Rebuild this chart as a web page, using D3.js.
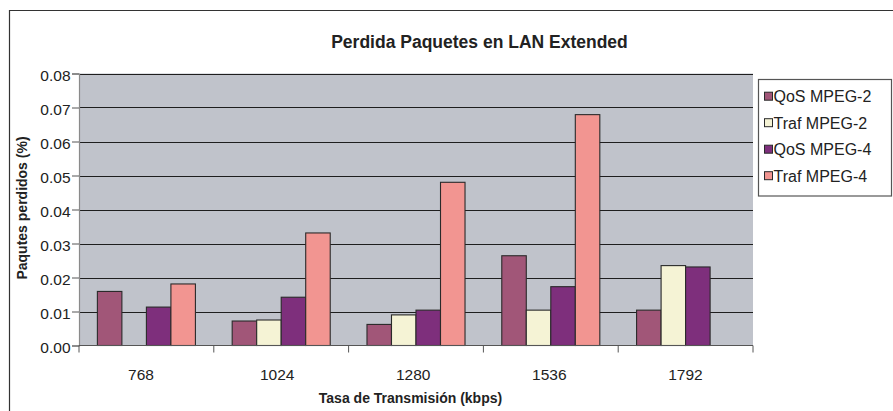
<!DOCTYPE html>
<html><head><meta charset="utf-8">
<script src="https://cdn.jsdelivr.net/npm/d3@7"></script>
<style>
html,body{margin:0;padding:0;background:#fff;}
svg{display:block;font-family:"Liberation Sans",Arial,sans-serif;}
</style></head>
<body><svg id="c" width="893" height="411"></svg>
<script>
const categories = ["768", "1024", "1280", "1536", "1792"];
const seriesNames = ["QoS MPEG-2", "Traf MPEG-2", "QoS MPEG-4", "Traf MPEG-4"];
const qosMpeg2  = [0.0159, 0.0072, 0.0062, 0.0264, 0.0104];
const trafMpeg2 = [null,   0.0075, 0.0090, 0.0104, 0.0235];
const qosMpeg4  = [0.0113, 0.0142, 0.0104, 0.0173, 0.0231];
const trafMpeg4 = [0.0181, 0.0331, 0.0480, 0.0679, null];
const seriesColors = ["#a15678", "#f5f3d5", "#7e2f7c", "#f29591"];
const yTickValues = [0, 0.01, 0.02, 0.03, 0.04, 0.05, 0.06, 0.07, 0.08];
const title = "Perdida Paquetes en LAN Extended";
const xTitle = "Tasa de Transmisión (kbps)";
const yTitle = "Paqutes perdidos (%)";

const seriesValues = [qosMpeg2, trafMpeg2, qosMpeg4, trafMpeg4];
const svg = d3.select("#c");

const L = 79, R = 753, T = 73.5, B = 345.5;

// outer chart border (extends beyond the right/bottom edge)
svg.append("path").attr("d", `M9.5,420 L9.5,10.5 L900,10.5`)
  .attr("fill", "none").attr("stroke", "#333").attr("stroke-width", 1.2);

const x0 = d3.scaleBand().domain(categories).range([L, R]).paddingInner(0).paddingOuter(0);
const x1 = d3.scaleBand().domain(seriesNames).range([0, x0.bandwidth()]).paddingInner(0).paddingOuter(0.75);
// category labels are laid out slightly wider than the plot in the original
const xLab = d3.scaleBand().domain(categories).range([L - 6, R + 0.5]);
const y = d3.scaleLinear().domain([0, 0.08]).range([B, T]);

// plot background
svg.append("rect").attr("x", L).attr("y", T).attr("width", R - L).attr("height", B - T).attr("fill", "#c0c3cb");

// gridlines
svg.append("g").selectAll("line").data(yTickValues.filter(d => d > 0)).join("line")
  .attr("x1", L).attr("x2", R)
  .attr("y1", d => Math.round(y(d)) + 0.5).attr("y2", d => Math.round(y(d)) + 0.5)
  .attr("stroke", "#1e1e1e").attr("stroke-width", 1.2);

// bars
const g = svg.append("g");
seriesNames.forEach((s, si) => {
  g.append("g").selectAll("rect")
    .data(categories.map((c, ci) => ({c, v: seriesValues[si][ci]})).filter(d => d.v != null))
    .join("rect")
    .attr("x", d => x0(d.c) + x1(s))
    .attr("y", d => y(d.v))
    .attr("width", x1.bandwidth())
    .attr("height", d => B - y(d.v))
    .attr("fill", seriesColors[si])
    .attr("stroke", "#2a2a2a").attr("stroke-width", 1.1);
});

// y axis
const yAxis = d3.axisLeft(y).tickValues(yTickValues).tickFormat(d3.format(".2f")).tickSize(7).tickPadding(1.5);
const ya = svg.append("g").attr("transform", `translate(${L},0)`).call(yAxis);
ya.select(".domain").attr("stroke", "#8a8a8a").attr("stroke-width", 1.2);
ya.selectAll(".tick line").attr("stroke", "#555");
ya.selectAll("text").attr("font-size", "15.5px").attr("fill", "#222")
  .attr("font-family", "'Liberation Sans',Arial,sans-serif").attr("dy", "0.42em");

// x axis
const xa = svg.append("g").attr("transform", `translate(0,${B})`);
xa.append("line").attr("x1", L).attr("x2", R).attr("y1", 0).attr("y2", 0)
  .attr("stroke", "#555").attr("stroke-width", 1.2);
const bounds = categories.map(c => x0(c)).concat([R]);
xa.selectAll("line.tk").data(bounds).join("line").attr("class", "tk")
  .attr("x1", d => d).attr("x2", d => d).attr("y1", 0).attr("y2", 7)
  .attr("stroke", "#555");
xa.selectAll("text").data(categories).join("text")
  .attr("x", d => xLab(d) + xLab.bandwidth() / 2).attr("y", 34)
  .attr("text-anchor", "middle").attr("font-size", "15.5px").attr("fill", "#222")
  .text(d => d);

// titles
svg.append("text").attr("x", 479.5).attr("y", 48).attr("text-anchor", "middle")
  .attr("font-size", "17.5px").attr("font-weight", "bold").attr("fill", "#222").text(title);
svg.append("text").attr("x", 410.5).attr("y", 403).attr("text-anchor", "middle")
  .attr("font-size", "14px").attr("font-weight", "bold").attr("fill", "#222").text(xTitle);
svg.append("text").attr("transform", "translate(27,208) rotate(-90)").attr("text-anchor", "middle")
  .attr("font-size", "14px").attr("font-weight", "bold").attr("fill", "#222").text(yTitle);

// legend
const lg = svg.append("g");
lg.append("rect").attr("x", 758.5).attr("y", 79.5).attr("width", 133).attr("height", 116.5)
  .attr("fill", "#fff").attr("stroke", "#555").attr("stroke-width", 1.2);
const rowY = [96.7, 123.2, 149.7, 176.2];
seriesNames.forEach((s, i) => {
  lg.append("rect").attr("x", 764.5).attr("y", rowY[i] - 4.5).attr("width", 8).attr("height", 8)
    .attr("fill", seriesColors[i]).attr("stroke", "#2a2a2a").attr("stroke-width", 1);
  lg.append("text").attr("x", 773.5).attr("y", rowY[i] + 5.5).attr("font-size", "16px").attr("fill", "#222")
    .text(s);
});
</script></body></html>
